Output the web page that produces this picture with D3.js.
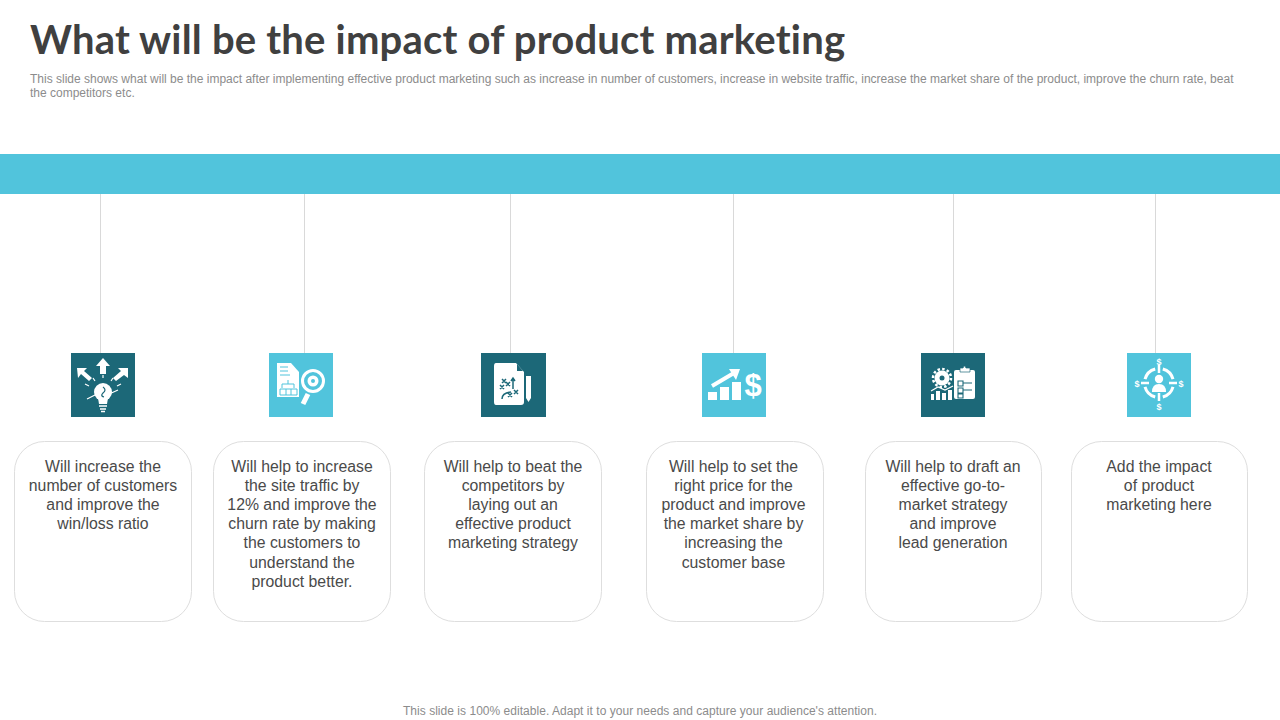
<!DOCTYPE html>
<html>
<head>
<meta charset="utf-8">
<script src="https://cdn.jsdelivr.net/npm/d3@7"></script>
<style>
  html, body { margin: 0; padding: 0; background: #fff; }
  svg { display: block; }
</style>
</head>
<body>
<svg id="slide" width="1280" height="720"></svg>
<script>
// slide text
var title = "What will be the impact of product marketing";
var subtitleLines = [
  "This slide shows what will be the impact after implementing effective product marketing such as increase in number of customers, increase in website traffic, increase the market share of the product, improve the churn rate, beat",
  "the competitors etc."
];
var footer = "This slide is 100% editable. Adapt it to your needs and capture your audience's attention.";

// one entry per column
var columns = ["customers", "traffic", "strategy", "price", "draft", "add"];
var boxLines = [
  ["Will increase the", "number of customers", "and improve the", "win/loss ratio"],
  ["Will help to increase", "the site traffic by", "12% and improve the", "churn rate by making", "the customers to", "understand the", "product better."],
  ["Will help to beat the", "competitors by", "laying out an", "effective product", "marketing strategy"],
  ["Will help to set the", "right price for the", "product and improve", "the market share by", "increasing the", "customer base"],
  ["Will help to draft an", "effective go-to-", "market strategy", "and improve", "lead generation"],
  ["Add the impact", "of product", "marketing here"]
];

var teal = "#51c4dc", dark = "#1c6878", ink = "#404040", bodyInk = "#4a4a4a", grey = "#8c8c8c";

// column positions live in the scales
var lineX = d3.scaleOrdinal().domain(columns).range([100.5, 304.5, 510.5, 733.5, 953.5, 1155.5]);
var iconX = d3.scaleOrdinal().domain(columns).range([71, 269, 481, 702, 921, 1127]);
var boxX = d3.scaleOrdinal().domain(columns).range([14.5, 213.5, 424.5, 646.5, 865.5, 1071.5]);
var boxW = d3.scaleOrdinal().domain(columns).range([177, 177, 177, 177, 176, 176]);
var textX = d3.scaleOrdinal().domain(columns).range([103, 302, 513, 733.5, 953, 1159]);
var iconFill = d3.scaleOrdinal().domain(columns).range([dark, teal, dark, teal, dark, teal]);

var svg = d3.select("#slide");

svg.append("text")
  .attr("x", 30).attr("y", 54)
  .attr("textLength", 815).attr("lengthAdjust", "spacing")
  .style("font", "700 40px Lato")
  .style("font-variant-ligatures", "none")
  .style("fill", ink)
  .text(title);

svg.selectAll(".sub").data(subtitleLines).enter().append("text")
  .attr("class", "sub")
  .attr("x", 30)
  .attr("y", function (d, i) { return 83 + i * 14; })
  .style("font", "12px 'Liberation Sans'")
  .style("fill", grey)
  .text(function (d) { return d; });

svg.append("rect")
  .attr("x", 0).attr("y", 154).attr("width", 1280).attr("height", 40)
  .style("fill", teal);

svg.selectAll(".stem").data(columns).enter().append("line")
  .attr("class", "stem")
  .attr("x1", lineX).attr("x2", lineX)
  .attr("y1", 194).attr("y2", 353)
  .style("stroke", "#d9d9d9");

svg.selectAll(".box").data(columns).enter().append("rect")
  .attr("class", "box")
  .attr("x", boxX).attr("y", 441.5)
  .attr("width", boxW).attr("height", 180)
  .attr("rx", 30)
  .style("fill", "#fff")
  .style("stroke", "#dedede");

var icons = svg.selectAll(".icon").data(columns).enter().append("g")
  .attr("class", "icon")
  .attr("transform", function (d) { return "translate(" + iconX(d) + ",353)"; });

icons.append("rect")
  .attr("width", function (d) { return d === "strategy" ? 65 : 64; })
  .attr("height", 64)
  .style("fill", iconFill);

// white pictograms, drawn in the 64x64 square of each icon
var draw = {
  customers: function (g) {
    g.append("path").attr("d", "M32 5 L39 13 L35 13 L35 21 L29 21 L29 13 L25 13 Z").attr("fill", "#fff");
    g.append("path").attr("d", "M6 15 L16 15 L13 18 L21 25 L18 28 L10 21 L7 25 Z").attr("fill", "#fff");
    g.append("path").attr("d", "M57 15 L57 25 L53 22 L45 28 L42 25 L50 18 L47 15 Z").attr("fill", "#fff");
    g.append("circle").attr("cx", 32).attr("cy", 39).attr("r", 9).attr("fill", "#fff");
    g.append("path").attr("d", "M27 45 L37 45 L36 51 L28 51 Z").attr("fill", "#fff");
    g.append("path").attr("d", "M28 53 H36 M29 56 H35 M30 58.5 H34").attr("stroke", "#fff").attr("stroke-width", 1.6);
    g.append("path").attr("d", "M16 46 L28 40 M36 42 L47 37 M18 33 L14 31 M46 33 L50 31 M24 28 L22 25 M40 28 L42 25 M32 25 V22")
      .attr("stroke", "#fff").attr("stroke-width", 1.2).attr("fill", "none");
    g.append("path").attr("d", "M32 34 Q36 37 32 40 Q29 43 33 44").attr("stroke", dark).attr("stroke-width", 1.2).attr("fill", "none");
  },
  traffic: function (g) {
    g.append("path").attr("d", "M8 10 H22 L30 19 V44 H8 Z").attr("fill", "#fff");
    g.append("path").attr("d", "M11 14 H19 M11 18 H19 M11 22 H21 M19 27 V31 M13 35 V31 H25 V35 M11 36 H28 V42 H11 Z M17 36 V42 M22 36 V42")
      .attr("stroke", teal).attr("stroke-width", 1).attr("fill", "none");
    g.append("circle").attr("cx", 44).attr("cy", 28).attr("r", 10.5).attr("fill", "none").attr("stroke", "#fff").attr("stroke-width", 3);
    g.append("circle").attr("cx", 44).attr("cy", 28).attr("r", 5.5).attr("fill", "#fff");
    g.append("circle").attr("cx", 44).attr("cy", 28).attr("r", 2).attr("fill", teal);
    g.append("path").attr("d", "M39 41 L34 51").attr("stroke", "#fff").attr("stroke-width", 5);
  },
  strategy: function (g) {
    g.append("path").attr("d", "M15 10 H35 L43 19 V49 Q43 52 40 52 H15 Q13 52 13 49 V13 Q13 10 15 10 Z").attr("fill", "#fff");
    g.append("path").attr("d", "M36 11 L42 18 H36 Z").attr("fill", dark);
    g.append("path").attr("d", "M45 23 H50 V45 L47.5 49 L45 45 Z").attr("fill", "#fff");
    g.append("path").attr("d", "M21 26 L25 30 M25 26 L21 30 M25 29 L29 33 M29 29 L25 33 M19 32 L23 36 M23 32 L19 36 M27 40 L31 44 M31 40 L27 44 M33 37 L37 41 M37 37 L33 41 M32 36 V25 M30 28 L32 25 L34 28 M21 46 Q21 40 30 39")
      .attr("stroke", dark).attr("stroke-width", 1.5).attr("fill", "none");
  },
  price: function (g) {
    g.append("rect").attr("x", 6).attr("y", 39).attr("width", 9).attr("height", 8).attr("fill", "#fff");
    g.append("rect").attr("x", 18).attr("y", 34).attr("width", 9).attr("height", 13).attr("fill", "#fff");
    g.append("rect").attr("x", 30).attr("y", 29).attr("width", 9).attr("height", 18).attr("fill", "#fff");
    g.append("path").attr("d", "M10 33 L32 20").attr("stroke", "#fff").attr("stroke-width", 4);
    g.append("path").attr("d", "M38 16 L34 27 L27 16 Z").attr("fill", "#fff");
    g.append("text").attr("x", 51).attr("y", 43).attr("text-anchor", "middle")
      .style("font", "700 31px 'Liberation Sans'").style("fill", "#fff").text("$");
  },
  draft: function (g) {
    g.append("circle").attr("cx", 21).attr("cy", 25).attr("r", 7.5).attr("fill", "#fff");
    g.append("circle").attr("cx", 21).attr("cy", 25).attr("r", 9).attr("fill", "none").attr("stroke", "#fff").attr("stroke-width", 2.5).attr("stroke-dasharray", "2.5 2.2");
    g.append("circle").attr("cx", 21).attr("cy", 25).attr("r", 2.5).attr("fill", dark);
    g.append("path").attr("d", "M10 47 V41 H13 V47 Z M15 47 V38 H19 V47 Z M21 47 V40 H25 V47 Z M27 47 V37 H31 V47 Z").attr("fill", "#fff");
    g.append("path").attr("d", "M10 38 L17 34 L24 37 L32 33").attr("stroke", "#fff").attr("stroke-width", 1.2).attr("fill", "none");
    g.append("rect").attr("x", 33).attr("y", 17).attr("width", 21).attr("height", 29).attr("rx", 2).attr("fill", "#fff");
    g.append("path").attr("d", "M39 19 V15 H42 Q43.5 11 45 15 H49 V19 Z").attr("fill", "#fff").attr("stroke", dark).attr("stroke-width", 0.7);
    g.append("path").attr("d", "M37 28 H42 V33 H37 Z M37 35 H42 V40 H37 Z M37 41 H42 V45 H37 Z M42 30 H51 M42 37 H51")
      .attr("stroke", dark).attr("stroke-width", 1.1).attr("fill", "none");
  },
  add: function (g) {
    var arc = d3.arc().innerRadius(13).outerRadius(16);
    // four ring segments between the ticks
    [45, 135, 225, 315].forEach(function (deg) {
      var a = deg * Math.PI / 180;
      g.append("path")
        .attr("d", arc({ startAngle: a - 0.52, endAngle: a + 0.52 }))
        .attr("transform", "translate(32,30)")
        .attr("fill", "#fff");
    });
    g.append("path").attr("d", "M32 12 V20 M32 40 V48 M14 30 H22 M42 30 H50").attr("stroke", "#fff").attr("stroke-width", 2.5);
    g.append("circle").attr("cx", 32).attr("cy", 26).attr("r", 4.2).attr("fill", "#fff");
    g.append("path").attr("d", "M25 39 Q25 31 32 31 Q39 31 39 39 Z").attr("fill", "#fff");
    [[32, 12], [32, 57], [10, 34], [54, 34]].forEach(function (p) {
      g.append("text").attr("x", p[0]).attr("y", p[1]).attr("text-anchor", "middle")
        .style("font", "700 9px 'Liberation Sans'").style("fill", "#fff").text("$");
    });
  }
};

icons.each(function (d) { draw[d](d3.select(this)); });

svg.selectAll(".boxtext").data(columns).enter().append("text")
  .attr("class", "boxtext")
  .attr("text-anchor", "middle")
  .style("font", "15.8px 'Liberation Sans'")
  .style("fill", bodyInk)
  .each(function (d, i) {
    d3.select(this).selectAll("tspan").data(boxLines[i]).enter().append("tspan")
      .attr("x", textX(d))
      .attr("y", function (t, j) { return 471.8 + j * 19.17; })
      .text(function (t) { return t; });
  });

svg.append("text")
  .attr("x", 403).attr("y", 715)
  .attr("textLength", 474).attr("lengthAdjust", "spacing")
  .style("font", "12px 'Liberation Sans'")
  .style("fill", grey)
  .text(footer);
</script>
</body>
</html>
